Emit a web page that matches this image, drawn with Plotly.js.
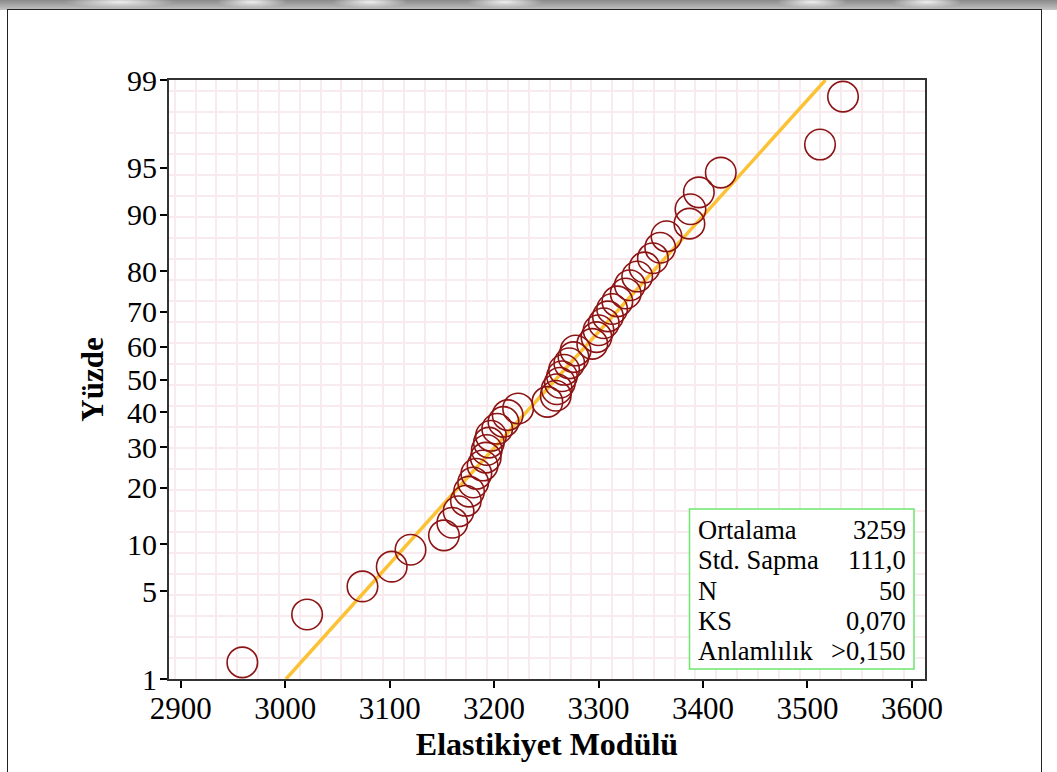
<!DOCTYPE html>
<html>
<head>
<meta charset="utf-8">
<script src="https://cdn.plot.ly/plotly-3.0.1.min.js"></script>
<style>
  html, body { margin: 0; padding: 0; background: #ffffff; }
  #page { position: relative; width: 1057px; height: 772px; overflow: hidden; background: #ffffff; }
  #band {
    position: absolute; left: 0; top: 0; width: 1057px; height: 10px;
    background:
      radial-gradient(ellipse 55px 6px at 120px 2px, rgba(255,255,255,0.85), rgba(255,255,255,0) 100%),
      radial-gradient(ellipse 35px 6px at 252px 2px, rgba(255,255,255,0.85), rgba(255,255,255,0) 100%),
      radial-gradient(ellipse 38px 6px at 370px 2px, rgba(255,255,255,0.85), rgba(255,255,255,0) 100%),
      radial-gradient(ellipse 38px 6px at 505px 2px, rgba(255,255,255,0.85), rgba(255,255,255,0) 100%),
      radial-gradient(ellipse 35px 6px at 812px 2px, rgba(255,255,255,0.85), rgba(255,255,255,0) 100%),
      radial-gradient(ellipse 35px 6px at 927px 2px, rgba(255,255,255,0.85), rgba(255,255,255,0) 100%),
      linear-gradient(to bottom, #8a8a8a, #c4c4c4);
  }
  #frame {
    position: absolute; left: 7px; top: 9px; width: 1035px; height: 780px;
    border: 1.5px solid #222; box-sizing: border-box; background: #ffffff;
  }
  #chart { position: absolute; left: 0; top: 0; width: 1057px; height: 772px; }
</style>
</head>
<body>
<div id="page">
  <div id="band"></div>
  <div id="frame"></div>
  <div id="chart"></div>
</div>
<script>
// Elastikiyet modülü ölçümleri (sıralı) ve çizim yüzdeleri
const modulus = [
  2959, 3021, 3074, 3102, 3120, 3152, 3160, 3166, 3173, 3176,
  3180, 3183, 3189, 3192, 3193, 3195, 3197, 3203, 3209, 3213,
  3223, 3251, 3259, 3260, 3263, 3265, 3267, 3272, 3276, 3278,
  3294, 3298, 3300, 3305, 3309, 3313, 3318, 3326, 3330, 3337,
  3344, 3352, 3359, 3365, 3387, 3388, 3396, 3417, 3512, 3534
];
const percent = [
  1.4, 3.4, 5.4, 7.3, 9.3, 11.3, 13.3, 15.3, 17.3, 19.2,
  21.2, 23.2, 25.2, 27.2, 29.2, 31.2, 33.1, 35.1, 37.1, 39.1,
  41.1, 43.1, 45.0, 47.0, 49.0, 51.0, 53.0, 55.0, 56.9, 58.9,
  60.9, 62.9, 64.9, 66.9, 68.8, 70.8, 72.8, 74.8, 76.8, 78.8,
  80.8, 82.7, 84.7, 86.7, 88.7, 90.7, 92.7, 94.6, 96.6, 98.6
];

// Normal dağılım uyumu
const meanValue = 3259;
const sdValue = 111.0;
const fitPercent = [1, 99];

// Olasılık ekseni işaretleri
const yTickPercent = [1, 5, 10, 20, 30, 40, 50, 60, 70, 80, 90, 95, 99];
const xTicks = [2900, 3000, 3100, 3200, 3300, 3400, 3500, 3600];

// İstatistik kutusu
const statLabels = ['Ortalama', 'Std. Sapma', 'N', 'KS', 'Anlamlılık'];
const statValues = ['3259', '111,0', '50', '0,070', '>0,150'];

// Standart normal dağılımın ters birikimli fonksiyonu (Acklam yaklaşımı)
function probit(p) {
  const a = [-3.969683028665376e+01, 2.209460984245205e+02, -2.759285104469687e+02,
             1.383577518672690e+02, -3.066479806614716e+01, 2.506628277459239e+00];
  const b = [-5.447609879822406e+01, 1.615858368580409e+02, -1.556989798598866e+02,
             6.680131188771972e+01, -1.328068155288572e+01];
  const c = [-7.784894002430293e-03, -3.223964580411365e-01, -2.400758277161838e+00,
             -2.549732539343734e+00, 4.374664141464968e+00, 2.938163982698783e+00];
  const d = [7.784695709041462e-03, 3.224671290700398e-01, 2.445134137142996e+00,
             3.754408661907416e+00];
  const pl = 0.02425, ph = 1 - pl;
  let q, r;
  if (p < pl) {
    q = Math.sqrt(-2 * Math.log(p));
    return (((((c[0]*q+c[1])*q+c[2])*q+c[3])*q+c[4])*q+c[5]) /
           ((((d[0]*q+d[1])*q+d[2])*q+d[3])*q+1);
  }
  if (p > ph) {
    q = Math.sqrt(-2 * Math.log(1 - p));
    return -(((((c[0]*q+c[1])*q+c[2])*q+c[3])*q+c[4])*q+c[5]) /
            ((((d[0]*q+d[1])*q+d[2])*q+d[3])*q+1);
  }
  q = p - 0.5; r = q * q;
  return (((((a[0]*r+a[1])*r+a[2])*r+a[3])*r+a[4])*r+a[5])*q /
         (((((b[0]*r+b[1])*r+b[2])*r+b[3])*r+b[4])*r+1);
}
const zOf = pc => probit(pc / 100);

const yLo = zOf(1), yHi = zOf(99);

const fitLine = {
  type: 'scatter', mode: 'lines',
  x: fitPercent.map(pc => meanValue + sdValue * zOf(pc)),
  y: fitPercent.map(zOf),
  line: { color: '#fcc235', width: 3.5 },
  hoverinfo: 'skip', showlegend: false
};

const points = {
  type: 'scatter', mode: 'markers',
  x: modulus,
  y: percent.map(zOf),
  text: percent.map(pc => pc.toFixed(1) + '%'),
  hovertemplate: '%{x}<br>%{text}<extra></extra>',
  marker: { symbol: 'circle-open', size: 30.5, color: '#8c1414', line: { width: 1.6, color: '#8c1414' } },
  showlegend: false
};

// Çizim alanı sınırları (piksel)
const W = 1057, H = 772;
const L = 169, R = 925, T = 80, B = 679;
const px = v => (v - L) / (R - L);
const py = v => (B - v) / (B - T);

const serif = 'Liberation Serif, Times New Roman, serif';

const annotations = [];
statLabels.forEach((lab, i) => {
  const yc = 530 + i * 30.3;
  annotations.push({
    xref: 'paper', yref: 'paper', x: px(696), y: py(yc), xanchor: 'left', yanchor: 'middle',
    text: lab, showarrow: false, font: { family: serif, size: 26.5, color: '#000' }
  });
  annotations.push({
    xref: 'paper', yref: 'paper', x: px(908), y: py(yc), xanchor: 'right', yanchor: 'middle',
    text: statValues[i], showarrow: false, font: { family: serif, size: 26.5, color: '#000' }
  });
});

const layout = {
  width: W, height: H,
  margin: { l: L, r: W - R, t: T, b: H - B, pad: 0 },
  paper_bgcolor: 'rgba(0,0,0,0)',
  plot_bgcolor: '#ffffff',
  showlegend: false,
  font: { family: serif, color: '#000' },
  xaxis: {
    range: [2888.8, 3612.5],
    tickvals: xTicks,
    ticktext: xTicks.map(String),
    ticks: 'outside', ticklen: 7, tickwidth: 1.5, tickcolor: '#000',
    ticklabelstandoff: -6,
    showgrid: false, zeroline: false,
    showline: true, mirror: true, linecolor: '#333', linewidth: 2,
    tickfont: { family: serif, size: 31, color: '#000' },
    minor: { tick0: 2894.3, dtick: 19.94, showgrid: true, gridcolor: '#f9eaee', gridwidth: 2, ticks: '' },
    title: { text: '<b>Elastikiyet Modülü</b>', font: { family: serif, size: 32, color: '#000' }, standoff: 4 },
    automargin: false, fixedrange: true
  },
  yaxis: {
    range: [yLo, yHi],
    tickvals: yTickPercent.map(zOf),
    ticktext: yTickPercent.map(String),
    ticks: 'outside', ticklen: 7, tickwidth: 1.5, tickcolor: '#000',
    ticklabelstandoff: -3,
    showgrid: false, zeroline: false,
    showline: true, mirror: true, linecolor: '#333', linewidth: 2,
    tickfont: { family: serif, size: 30, color: '#000' },
    minor: { tick0: yLo, dtick: 21.0 / 128.75, showgrid: true, gridcolor: '#f9eaee', gridwidth: 2, ticks: '' },
    title: { text: '<b>Yüzde</b>', font: { family: serif, size: 31, color: '#000' }, standoff: 14 },
    automargin: false, fixedrange: true
  },
  shapes: [{
    type: 'rect', xref: 'paper', yref: 'paper',
    x0: px(689.5), x1: px(914), y0: py(669), y1: py(509),
    line: { color: '#6ee66e', width: 1.5 }, fillcolor: '#ffffff', layer: 'above'
  }],
  annotations: annotations
};

Plotly.newPlot('chart', [fitLine, points], layout, { displayModeBar: false });
</script>
</body>
</html>
